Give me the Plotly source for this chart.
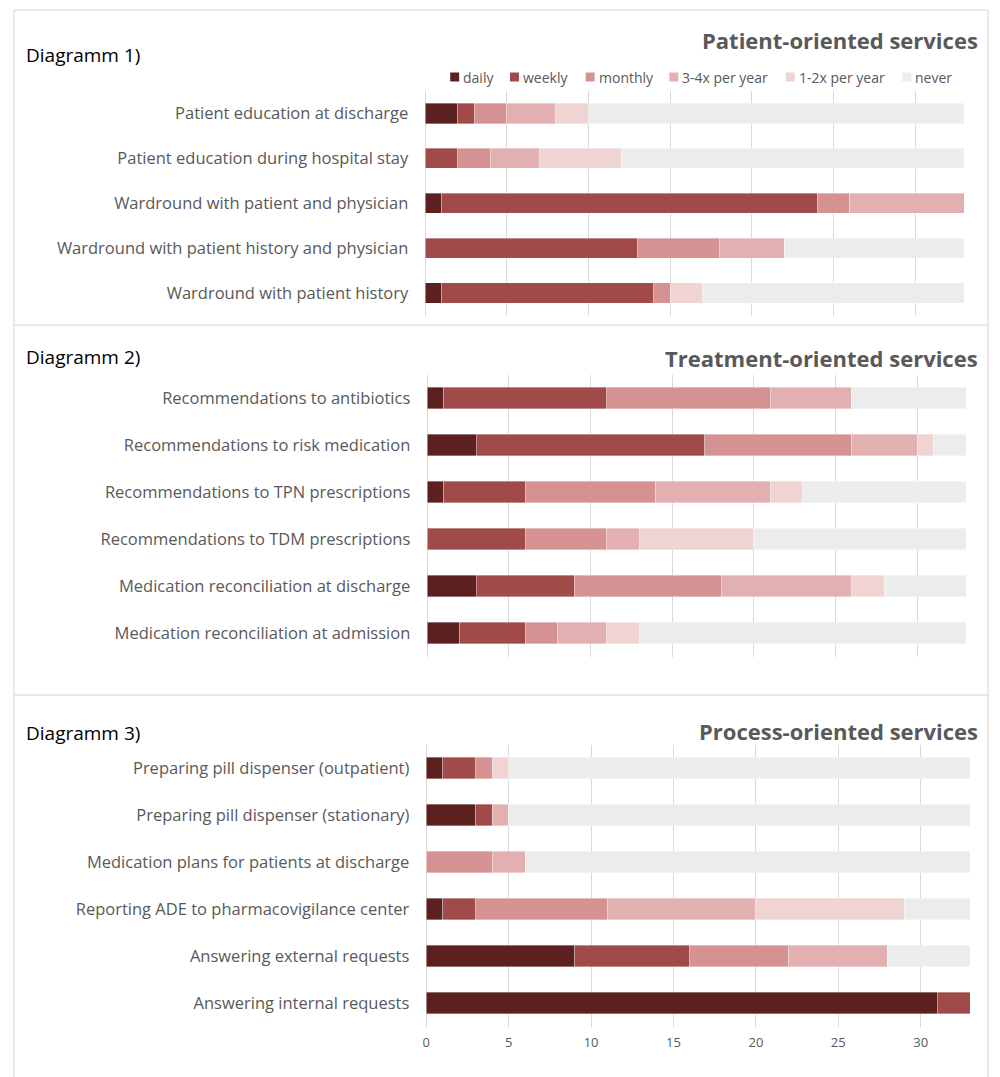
import plotly.graph_objects as go

# ---------------- data ----------------
freq_labels = ["daily", "weekly", "monthly", "3-4x per year", "1-2x per year", "never"]
freq_colors = ["#5C2020", "#A04A4A", "#D59292", "#E2B0B0", "#F0D4D4", "#ECECEC"]

patient_services = [
    "Patient education at discharge",
    "Patient education during hospital stay",
    "Wardround with patient and physician",
    "Wardround with patient history and physician",
    "Wardround with patient history",
]
patient_daily   = [2, 0, 1, 0, 1]
patient_weekly  = [1, 2, 23, 13, 13]
patient_monthly = [2, 2, 2, 5, 1]
patient_q34     = [3, 3, 7, 4, 0]
patient_q12     = [2, 5, 0, 0, 2]
patient_never   = [23, 21, 0, 11, 16]

treatment_services = [
    "Recommendations to antibiotics",
    "Recommendations to risk medication",
    "Recommendations to TPN prescriptions",
    "Recommendations to TDM prescriptions",
    "Medication reconciliation at discharge",
    "Medication reconciliation at admission",
]
treatment_daily   = [1, 3, 1, 0, 3, 2]
treatment_weekly  = [10, 14, 5, 6, 6, 4]
treatment_monthly = [10, 9, 8, 5, 9, 2]
treatment_q34     = [5, 4, 7, 2, 8, 3]
treatment_q12     = [0, 1, 2, 7, 2, 2]
treatment_never   = [7, 2, 10, 13, 5, 20]

process_services = [
    "Preparing pill dispenser (outpatient)",
    "Preparing pill dispenser (stationary)",
    "Medication plans for patients at discharge",
    "Reporting ADE to pharmacovigilance center",
    "Answering external requests",
    "Answering internal requests",
]
process_daily   = [1, 3, 0, 1, 9, 31]
process_weekly  = [2, 1, 0, 2, 7, 2]
process_monthly = [1, 0, 4, 8, 6, 0]
process_q34     = [0, 1, 2, 9, 6, 0]
process_q12     = [1, 0, 0, 9, 0, 0]
process_never   = [28, 28, 27, 4, 5, 0]

x_ticks = [0, 5, 10, 15, 20, 25, 30]

panels = [
    dict(cats=patient_services,
         series=[patient_daily, patient_weekly, patient_monthly, patient_q34, patient_q12, patient_never],
         diag="Diagramm 1)", title="Patient-oriented services"),
    dict(cats=treatment_services,
         series=[treatment_daily, treatment_weekly, treatment_monthly, treatment_q34, treatment_q12, treatment_never],
         diag="Diagramm 2)", title="Treatment-oriented services"),
    dict(cats=process_services,
         series=[process_daily, process_weekly, process_monthly, process_q34, process_q12, process_never],
         diag="Diagramm 3)", title="Process-oriented services"),
]

# ---------------- layout geometry (pixels) ----------------
W, H = 1000, 1077
FONT = "Open Sans"
TXT = "#595959"
GRID = "#D9D9D9"

plot_x = [(423, 964), (425, 966), (424, 970)]
plot_y = [(91, 315.5), (374.5, 656.5), (744.5, 1026.5)]
diag_y = [55, 357, 733]
title_y = [40, 358, 731]
legend_sq_x = [448, 508, 584, 668, 785, 902]
legend_y = 77

def px_x(v):
    return v / W

def px_y(v):
    return 1 - v / H

fig = go.Figure()

for i, p in enumerate(panels):
    ax = "" if i == 0 else str(i + 1)
    for k, (name, col) in enumerate(zip(freq_labels, freq_colors)):
        fig.add_trace(go.Bar(
            y=p["cats"], x=p["series"][k], name=name, orientation="h",
            marker=dict(color=col, line=dict(color="rgba(255,255,255,0.6)", width=0.6)),
            xaxis="x" + ax, yaxis="y" + ax,
            showlegend=False,
        ))
    x0, x1 = plot_x[i]
    y0, y1 = plot_y[i]
    fig.layout["xaxis" + ax] = dict(
        domain=[px_x(x0), px_x(x1)], range=[0, 33], anchor="y" + ax,
        showgrid=True, gridcolor=GRID, gridwidth=1,
        zeroline=True, zerolinecolor=GRID, zerolinewidth=1,
        tickvals=x_ticks, showticklabels=(i == 2), ticks="", ticklabelstandoff=6,
        tickfont=dict(family=FONT, size=13, color=TXT), fixedrange=True,
    )
    fig.layout["yaxis" + ax] = dict(
        domain=[px_y(y1), px_y(y0)], anchor="x" + ax, autorange="reversed",
        showgrid=False, zeroline=False, ticks="", ticklabelstandoff=16,
        tickfont=dict(family=FONT, size=16.5, color=TXT), fixedrange=True,
    )
    fig.add_annotation(xref="paper", yref="paper", x=px_x(20), y=px_y(diag_y[i]),
                       xanchor="left", yanchor="middle", showarrow=False,
                       text=p["diag"], font=dict(family=FONT, size=19, color="#000000"))
    fig.add_annotation(xref="paper", yref="paper", x=px_x(980), y=px_y(title_y[i]),
                       xanchor="right", yanchor="middle", showarrow=False,
                       text="<b>" + p["title"] + "</b>", font=dict(family=FONT, size=22, color=TXT))

# legend (swatch + label for each frequency category)
for name, col, sx in zip(freq_labels, freq_colors, legend_sq_x):
    fig.add_shape(type="rect", xref="paper", yref="paper",
                  x0=px_x(sx), x1=px_x(sx + 9), y0=px_y(legend_y + 4.5), y1=px_y(legend_y - 4.5),
                  fillcolor=col, line=dict(width=0))
    fig.add_annotation(xref="paper", yref="paper", x=px_x(sx + 11), y=px_y(legend_y),
                       xanchor="left", yanchor="middle", showarrow=False,
                       text=name, font=dict(family=FONT, size=14, color=TXT))

# panel frames
LINE = dict(color="#D4D4D4", width=1)
for (a, b, c, d) in [(10, 10, 988, 10), (10, 325, 988, 325), (10, 695, 988, 695),
                     (10, 10, 10, 1077), (988, 10, 988, 1077)]:
    fig.add_shape(type="line", xref="paper", yref="paper",
                  x0=px_x(a), y0=px_y(b), x1=px_x(c), y1=px_y(d), line=LINE)

fig.update_layout(
    width=W, height=H, autosize=False, margin=dict(l=0, r=0, t=0, b=0),
    barmode="stack", bargap=0.55,
    paper_bgcolor="white", plot_bgcolor="white",
    font=dict(family=FONT, color=TXT),
    showlegend=False,
)

fig.write_html("out.html", config={"responsive": False})
